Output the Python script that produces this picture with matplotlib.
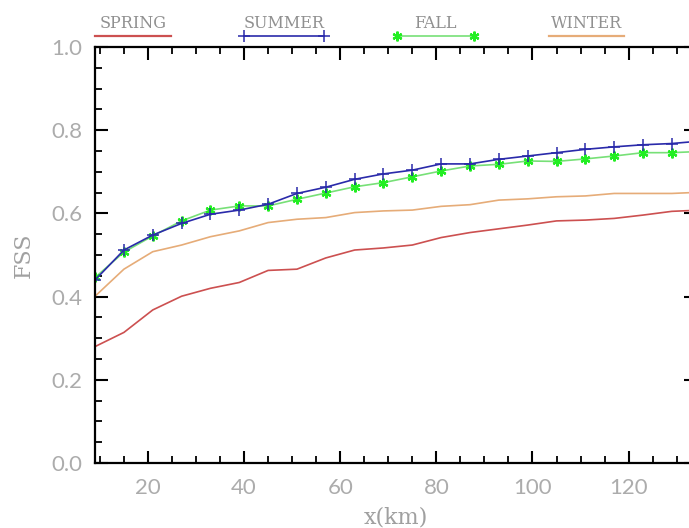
import matplotlib
matplotlib.use("Agg")
import matplotlib.pyplot as plt
from matplotlib.ticker import MultipleLocator
from matplotlib.lines import Line2D

# distance (km) and FSS per season
dist_km = [9, 15, 21, 27, 33, 39, 45, 51, 57, 63, 69, 75, 81, 87, 93, 99, 105, 111, 117, 123, 129, 135]
spring = [0.280, 0.314, 0.368, 0.401, 0.420, 0.434, 0.463, 0.466, 0.493, 0.512, 0.517,
          0.524, 0.542, 0.554, 0.563, 0.572, 0.582, 0.584, 0.588, 0.596, 0.605, 0.608]
summer = [0.440, 0.512, 0.548, 0.576, 0.598, 0.608, 0.622, 0.648, 0.663, 0.682, 0.695,
          0.704, 0.719, 0.719, 0.730, 0.738, 0.746, 0.754, 0.760, 0.765, 0.768, 0.774]
fall = [0.446, 0.507, 0.546, 0.582, 0.608, 0.618, 0.618, 0.634, 0.649, 0.664, 0.674,
        0.688, 0.702, 0.714, 0.718, 0.726, 0.725, 0.731, 0.738, 0.746, 0.746, 0.749]
winter = [0.401, 0.466, 0.508, 0.524, 0.544, 0.558, 0.578, 0.586, 0.590, 0.602, 0.606,
          0.608, 0.617, 0.621, 0.632, 0.635, 0.640, 0.642, 0.648, 0.648, 0.648, 0.651]

season_names = ["SPRING", "SUMMER", "FALL", "WINTER"]
season_colors = ["#cc5050", "#2a2aaa", "#77e077", "#e6ac78"]
# legend key spans in km (x) for each entry
key_spans = [(9.0, 24.8), (40.0, 56.7), (71.8, 87.9), (103.5, 119.1)]

GRAY = "#a0a0a0"
SERIF = "DejaVu Serif"

fig = plt.figure(figsize=(6.89, 5.28), dpi=100)
ax = fig.add_axes([0.138, 0.123, 0.872, 0.788])

lw = 1.2
ax.plot(dist_km, spring, color=season_colors[0], lw=lw)
ax.plot(dist_km, winter, color=season_colors[3], lw=lw)
ax.plot(dist_km, fall, color=season_colors[2], lw=lw,
        marker=(6, 2, 0), ms=7, mec="#22ee22", mew=1.6)
ax.plot(dist_km, summer, color=season_colors[1], lw=lw,
        marker="+", ms=8, mec=season_colors[1], mew=1.1)

ax.set_xlim(9, 134)
ax.set_ylim(0, 1.0)
ax.xaxis.set_major_locator(MultipleLocator(20))
ax.xaxis.set_minor_locator(MultipleLocator(5))
ax.yaxis.set_major_locator(MultipleLocator(0.2))
ax.yaxis.set_minor_locator(MultipleLocator(0.05))
ax.yaxis.set_major_formatter(plt.FuncFormatter(lambda v, p: f"{v:.1f}"))

ax.tick_params(which="both", direction="in", top=True, right=True, color="black")
ax.tick_params(which="major", length=9, width=1.5, labelsize=16, labelcolor="#acacac")
ax.tick_params(which="minor", length=5, width=1.3)
ax.tick_params(axis="x", pad=11)
ax.tick_params(axis="y", pad=9)
for lab in ax.get_xticklabels() + ax.get_yticklabels():
    lab.set_fontfamily("Lato")
for s in ax.spines.values():
    s.set_linewidth(1.6)

ax.set_xlabel("x(km)", fontfamily=SERIF, fontsize=16, color=GRAY, labelpad=6)
ax.set_ylabel("FSS", fontfamily=SERIF, fontsize=16, color=GRAY, labelpad=12)

# legend above the plot: name over a short key line
tr = ax.get_xaxis_transform()
for name, col, (x0, x1) in zip(season_names, season_colors, key_spans):
    if name == "SUMMER":
        ln = Line2D([x0, x1], [1.026, 1.026], color=col, lw=lw, marker="+", ms=8,
                    mew=1.1, transform=tr, clip_on=False)
    elif name == "FALL":
        ln = Line2D([x0, x1], [1.026, 1.026], color=col, lw=lw, marker=(6, 2, 0), ms=7,
                    mec="#22ee22", mew=1.6, transform=tr, clip_on=False)
    else:
        ln = Line2D([x0, x1], [1.026, 1.026], color=col, lw=1.6, transform=tr, clip_on=False)
    ax.add_line(ln)
    ax.text((x0 + x1) / 2, 1.056, name, transform=tr, ha="center", va="center",
            fontfamily=SERIF, fontsize=11.5, color="#909090")

fig.savefig("out.png", dpi=100)
